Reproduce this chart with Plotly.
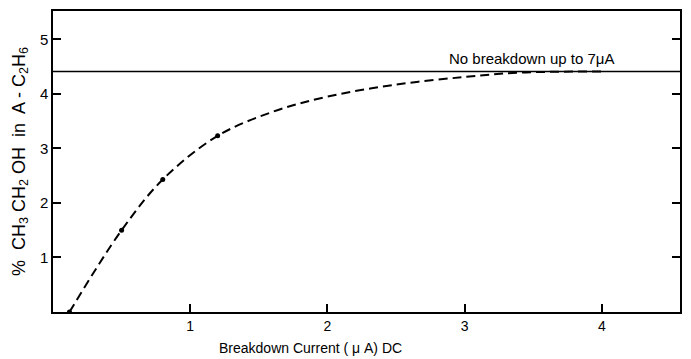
import plotly.graph_objects as go

# Data
curve_x = [0.12, 0.5, 0.8, 1.2, 1.6, 2.0, 2.5, 3.0, 3.4, 4.0]
curve_y = [0.0, 1.5, 2.43, 3.23, 3.67, 3.95, 4.17, 4.31, 4.39, 4.41]
point_x = [0.12, 0.5, 0.8, 1.2]
point_y = [0.0, 1.5, 2.43, 3.23]
limit_y = 4.41
x_ticks = [1, 2, 3, 4]
y_ticks = [1, 2, 3, 4, 5]

FONT = "Liberation Sans"

fig = go.Figure()
fig.add_trace(go.Scatter(
    x=curve_x, y=curve_y, mode="lines",
    line=dict(color="black", width=2, dash="9px,5px", shape="spline", smoothing=1.0),
    showlegend=False, hoverinfo="skip"))
fig.add_trace(go.Scatter(
    x=point_x, y=point_y, mode="markers",
    marker=dict(color="black", size=5),
    showlegend=False))
fig.add_hline(y=limit_y, line=dict(color="black", width=1.5))
fig.add_annotation(x=3.49, y=limit_y, yshift=3, text="No breakdown up to 7\u03bcA",
                   showarrow=False, yanchor="bottom",
                   font=dict(family=FONT, size=15, color="black"))
fig.add_annotation(x=0.41, xref="paper", y=-0.085, yref="paper", yanchor="top",
                   text="Breakdown Current ( \u03bc A) DC", showarrow=False,
                   font=dict(family=FONT, size=14, color="black"))

fig.update_xaxes(range=[0, 4.57], tickvals=x_ticks, ticktext=[str(t) for t in x_ticks],
                 ticks="inside", ticklen=8, tickwidth=1.5, tickcolor="black",
                 showline=True, linecolor="black", linewidth=1.5, mirror=True,
                 showgrid=False, zeroline=False,
                 tickfont=dict(family=FONT, size=14, color="black"))
fig.update_yaxes(range=[0, 5.52], tickvals=y_ticks, ticktext=[str(t) for t in y_ticks],
                 ticks="inside", ticklen=8, tickwidth=1.5, tickcolor="black",
                 showline=True, linecolor="black", linewidth=1.5, mirror="ticks",
                 showgrid=False, zeroline=False,
                 title=dict(text="%  CH<sub>3</sub> CH<sub>2</sub> OH  in  A - C<sub>2</sub>H<sub>6</sub>",
                            font=dict(family=FONT, size=18, color="black"), standoff=10),
                 tickfont=dict(family=FONT, size=15, color="black"))

fig.update_layout(width=691, height=359, margin=dict(l=53, r=9, t=10, b=47),
                  plot_bgcolor="white", paper_bgcolor="white")
fig.write_html("out.html", config={"displayModeBar": False},
               post_script="document.body.style.margin='0';document.body.style.overflow='hidden';")
